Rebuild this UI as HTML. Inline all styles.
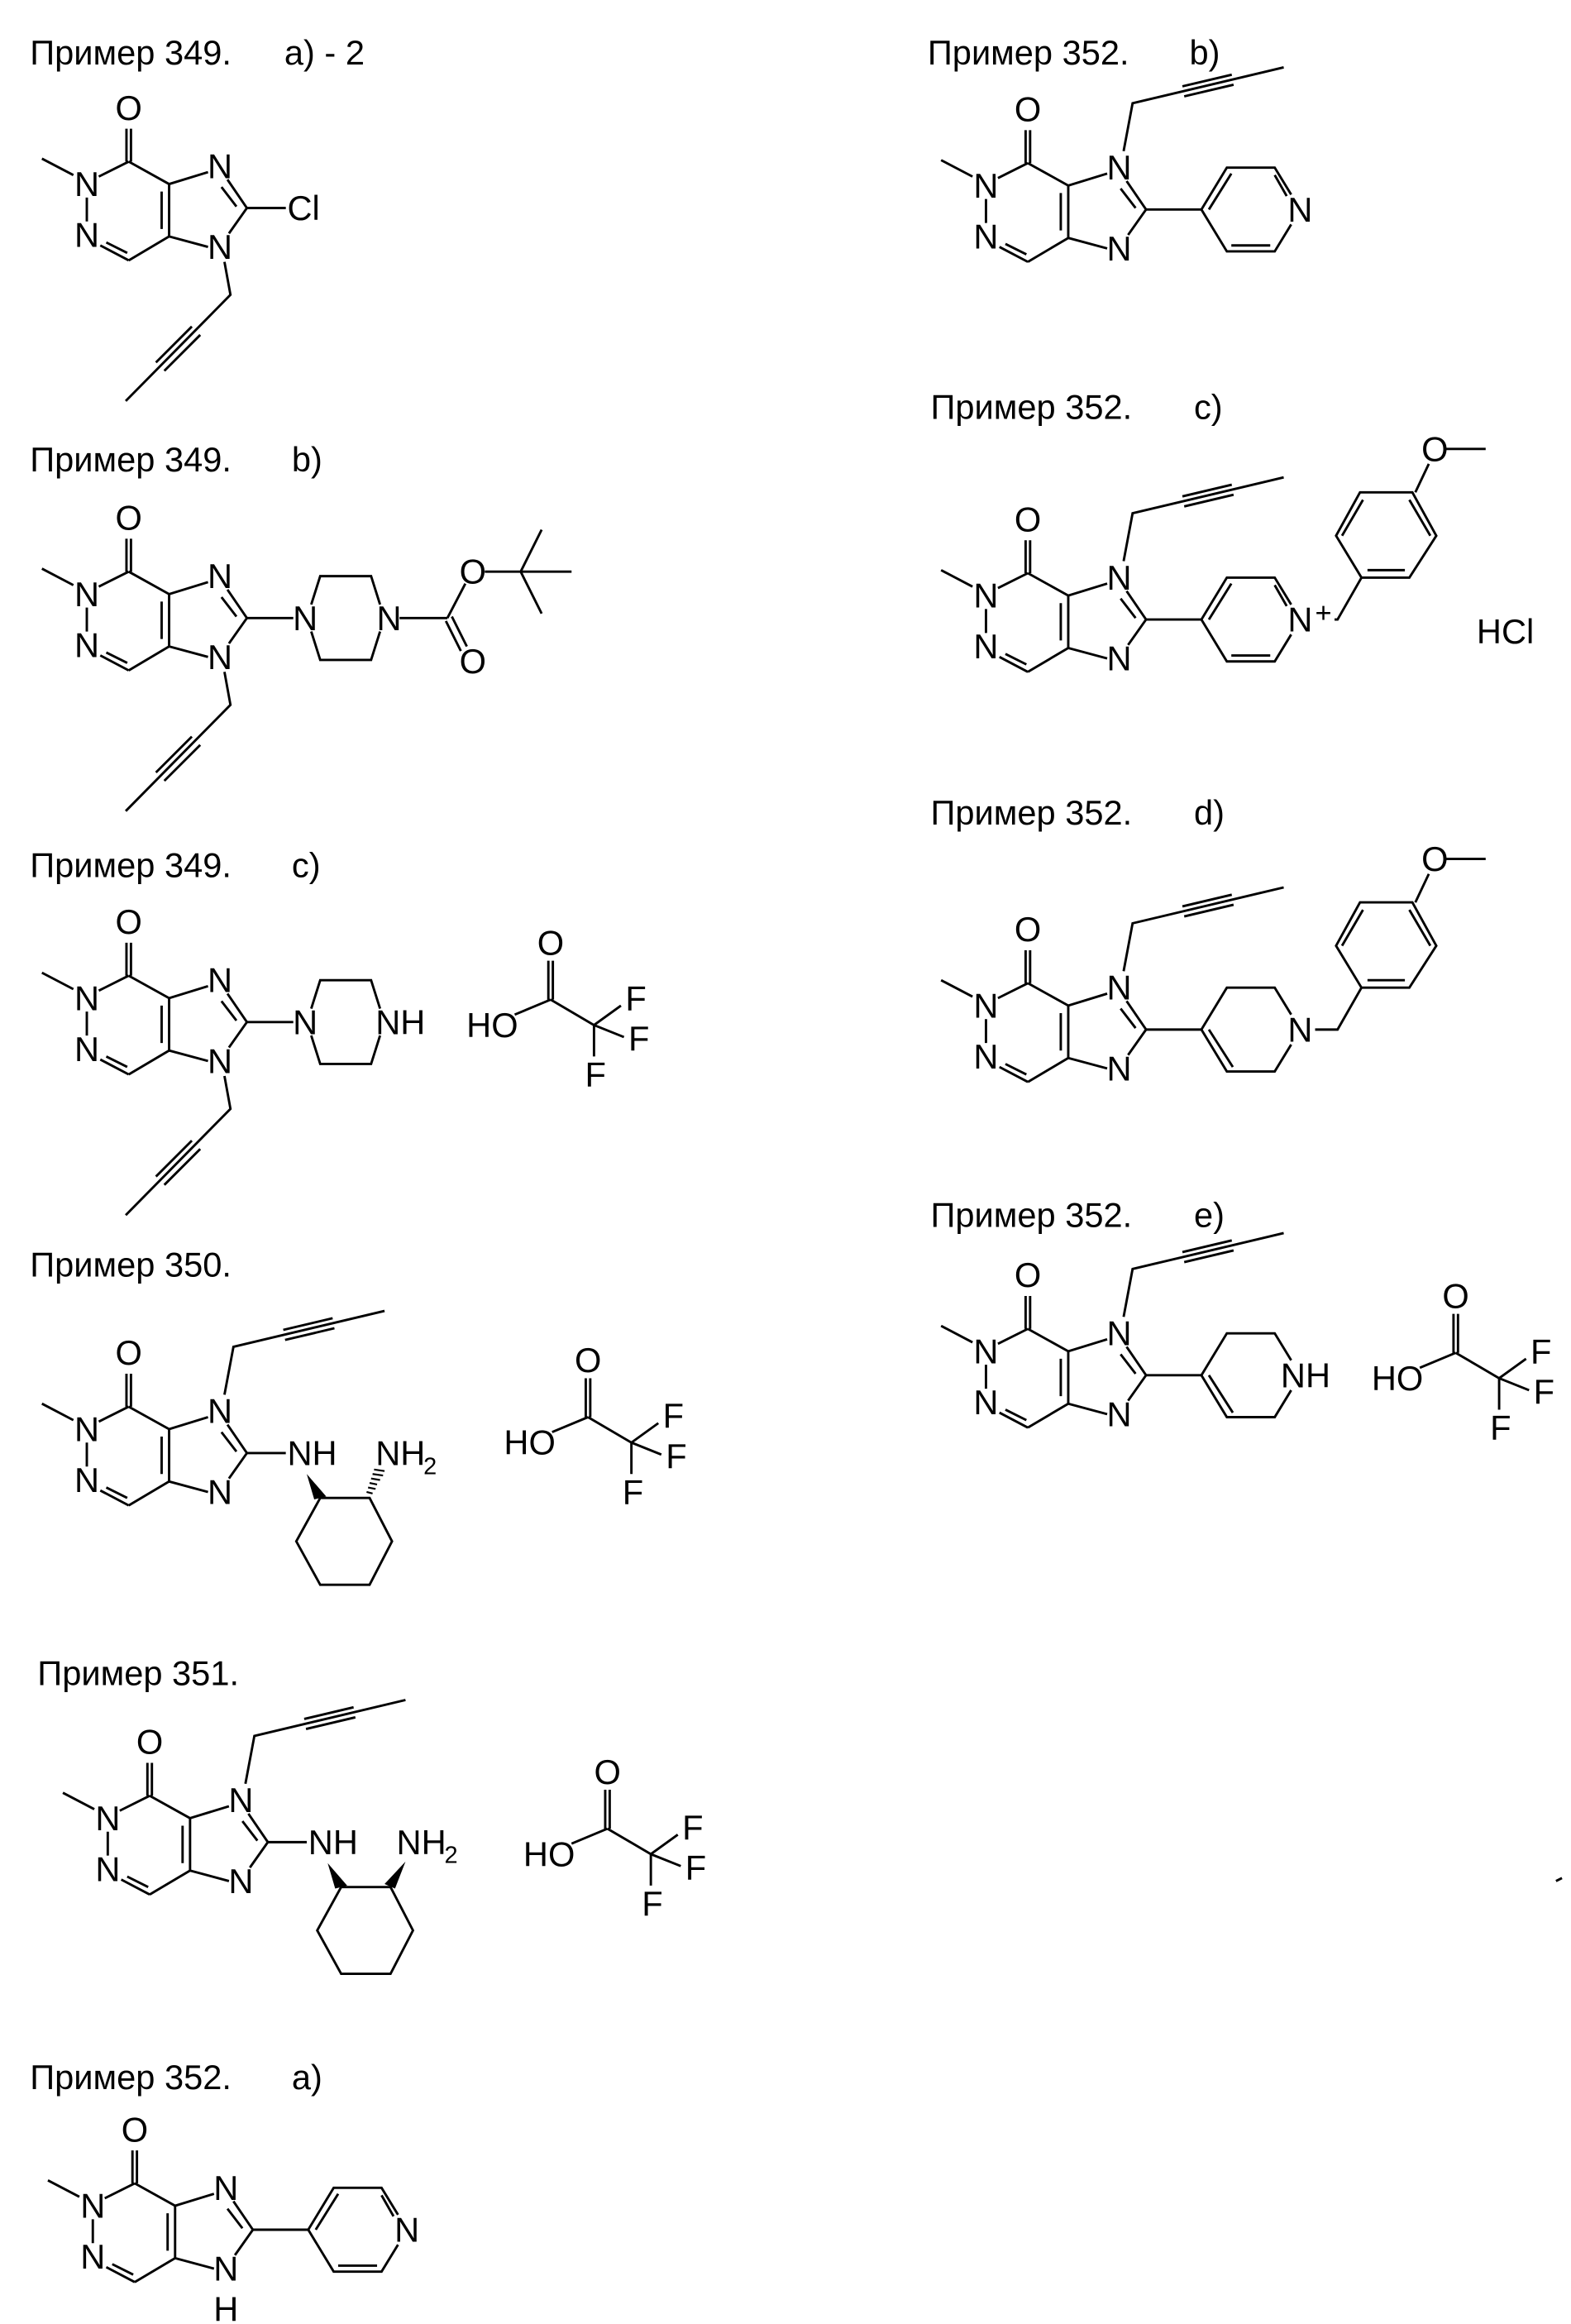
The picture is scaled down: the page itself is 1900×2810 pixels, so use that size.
<!DOCTYPE html>
<html><head><meta charset="utf-8"><style>
html,body{margin:0;padding:0;background:#fff}
svg{display:block}
.t{font-family:"Liberation Sans",sans-serif;font-size:23px;fill:#000}
.a{font-family:"Liberation Sans",sans-serif;font-size:23px;fill:#000;text-anchor:middle}
.s{font-family:"Liberation Sans",sans-serif;font-size:23px;fill:#000}
path,line{stroke:#000;stroke-width:1.6;fill:none}
</style></head><body>
<svg width="1900" height="2810" viewBox="0 0 1050 1553" xmlns="http://www.w3.org/2000/svg">

<!-- Titles -->
<text class="t" x="20" y="43">Пример 349.</text><text class="t" x="190" y="43">a) - 2</text>
<text class="t" x="20" y="315">Пример 349.</text><text class="t" x="195" y="315">b)</text>
<text class="t" x="20" y="586">Пример 349.</text><text class="t" x="195" y="586">c)</text>
<text class="t" x="20" y="853">Пример 350.</text>
<text class="t" x="25" y="1126">Пример 351.</text>
<text class="t" x="20" y="1396">Пример 352.</text><text class="t" x="195" y="1396">a)</text>
<text class="t" x="620" y="43">Пример 352.</text><text class="t" x="795" y="43">b)</text>
<text class="t" x="622" y="280">Пример 352.</text><text class="t" x="798" y="280">c)</text>
<text class="t" x="622" y="551">Пример 352.</text><text class="t" x="798" y="551">d)</text>
<text class="t" x="622" y="820">Пример 352.</text><text class="t" x="798" y="820">e)</text>
<line x1="1040" y1="1257" x2="1044" y2="1255"/>

<!-- 349a -->
<g transform="translate(86,108)">
<path d="M-1.5,-22V0M1.5,-22V0M0,0L-20,10M-58,-2L-37,9M-28,24V40M-19,56L0,66M-15,54L-1,61M0,66L27,50M27,50V15M22,45V20M27,15L0,0M27,15L53,7M66,12L79,31M62,17L72,30M79,31L67,48M27,50L53,57"/>
<text class="a" x="0" y="-28">O</text><text class="a" x="-28" y="23">N</text><text class="a" x="-28" y="57">N</text><text class="a" x="61" y="11">N</text><text class="a" x="61" y="65">N</text>
<path d="M79,31L105,31"/><text class="s" x="106" y="39">Cl</text>
<path d="M64,67L68,89L-2,160M47.8,115.8L23.8,139.8M42.2,110.2L18.2,134.2"/>
</g>

<!-- 349b -->
<g transform="translate(86,382)">
<path d="M-1.5,-22V0M1.5,-22V0M0,0L-20,10M-58,-2L-37,9M-28,24V40M-19,56L0,66M-15,54L-1,61M0,66L27,50M27,50V15M22,45V20M27,15L0,0M27,15L53,7M66,12L79,31M62,17L72,30M79,31L67,48M27,50L53,57"/>
<text class="a" x="0" y="-28">O</text><text class="a" x="-28" y="23">N</text><text class="a" x="-28" y="57">N</text><text class="a" x="61" y="11">N</text><text class="a" x="61" y="65">N</text>
<path d="M64,67L68,89L-2,160M47.8,115.8L23.8,139.8M42.2,110.2L18.2,134.2"/>
<path d="M79,31L110,31M122,22L128,3L162,3L168,22M168,40L162,59L128,59L122,40M181,31L213,31M213,31L225,8M212,33L222,53M216,30L226,50M238,0L262,0M262,0L276,-28M262,0L296,0M262,0L276,28"/>
<text class="a" x="118" y="39">N</text><text class="a" x="174" y="39">N</text>
<text class="a" x="230" y="8">O</text><text class="a" x="230" y="68">O</text>
</g>

<!-- 349c -->
<g transform="translate(86,652)">
<path d="M-1.5,-22V0M1.5,-22V0M0,0L-20,10M-58,-2L-37,9M-28,24V40M-19,56L0,66M-15,54L-1,61M0,66L27,50M27,50V15M22,45V20M27,15L0,0M27,15L53,7M66,12L79,31M62,17L72,30M79,31L67,48M27,50L53,57"/>
<text class="a" x="0" y="-28">O</text><text class="a" x="-28" y="23">N</text><text class="a" x="-28" y="57">N</text><text class="a" x="61" y="11">N</text><text class="a" x="61" y="65">N</text>
<path d="M64,67L68,89L-2,160M47.8,115.8L23.8,139.8M42.2,110.2L18.2,134.2"/>
<path d="M79,31L110,31M122,22L128,3L162,3L168,22M168,40L162,59L128,59L122,40"/>
<text class="a" x="118" y="39">N</text><text class="s" x="165" y="39">NH</text>
<g transform="translate(282,16)">
<path d="M-24,10L0,0M-1.5,0V-26M1.5,0V-26M0,0L29,17M29,17L47,4M29,17L49,25M29,17V38"/>
<text class="a" x="-39" y="25">HO</text><text class="a" x="0" y="-30">O</text><text class="a" x="57" y="7">F</text><text class="a" x="59" y="34">F</text><text class="a" x="30" y="58">F</text>
</g>
</g>

<!-- 350 -->
<g transform="translate(86,940)">
<path d="M-1.5,-22V0M1.5,-22V0M0,0L-20,10M-58,-2L-37,9M-28,24V40M-19,56L0,66M-15,54L-1,61M0,66L27,50M27,50V15M22,45V20M27,15L0,0M27,15L53,7M66,12L79,31M62,17L72,30M79,31L67,48M27,50L53,57"/>
<text class="a" x="0" y="-28">O</text><text class="a" x="-28" y="23">N</text><text class="a" x="-28" y="57">N</text><text class="a" x="61" y="11">N</text><text class="a" x="61" y="65">N</text>
<path d="M64,-8L70,-40L171,-64M104.5,-44.6L137.5,-52.4M103.3,-51.3L136.3,-59.1"/>
<path d="M79,31L105,31M128,61L161,61L176,90L161,119L128,119L112,90Z"/>
<text class="s" x="106" y="39">NH</text><text class="s" x="165" y="39">NH</text><text class="s" x="197" y="45" style="font-size:16px">2</text>
<polygon points="119,45 124,62 132,60" fill="#000"/>
<path d="M163,58L159,57M165,55L160,54M166,52L161,51M168,49L162,48M170,46L163,45M171,43L164,42" style="stroke-width:1.2"/>
<g transform="translate(307,7)">
<path d="M-24,10L0,0M-1.5,0V-26M1.5,0V-26M0,0L29,17M29,17L47,4M29,17L49,25M29,17V38"/>
<text class="a" x="-39" y="25">HO</text><text class="a" x="0" y="-30">O</text><text class="a" x="57" y="7">F</text><text class="a" x="59" y="34">F</text><text class="a" x="30" y="58">F</text>
</g>
</g>

<!-- 351 -->
<g transform="translate(100,1200)">
<path d="M-1.5,-22V0M1.5,-22V0M0,0L-20,10M-58,-2L-37,9M-28,24V40M-19,56L0,66M-15,54L-1,61M0,66L27,50M27,50V15M22,45V20M27,15L0,0M27,15L53,7M66,12L79,31M62,17L72,30M79,31L67,48M27,50L53,57"/>
<text class="a" x="0" y="-28">O</text><text class="a" x="-28" y="23">N</text><text class="a" x="-28" y="57">N</text><text class="a" x="61" y="11">N</text><text class="a" x="61" y="65">N</text>
<path d="M64,-8L70,-40L171,-64M104.5,-44.6L137.5,-52.4M103.3,-51.3L136.3,-59.1"/>
<path d="M79,31L105,31M128,61L161,61L176,90L161,119L128,119L112,90Z"/>
<text class="s" x="106" y="39">NH</text><text class="s" x="165" y="39">NH</text><text class="s" x="197" y="45" style="font-size:16px">2</text>
<polygon points="119,45 124,62 132,60" fill="#000"/>
<polygon points="171,44 157,59 164,62" fill="#000"/>
<g transform="translate(306,22)">
<path d="M-24,10L0,0M-1.5,0V-26M1.5,0V-26M0,0L29,17M29,17L47,4M29,17L49,25M29,17V38"/>
<text class="a" x="-39" y="25">HO</text><text class="a" x="0" y="-30">O</text><text class="a" x="57" y="7">F</text><text class="a" x="59" y="34">F</text><text class="a" x="30" y="58">F</text>
</g>
</g>

<!-- 352a -->
<g transform="translate(90,1459)">
<path d="M-1.5,-22V0M1.5,-22V0M0,0L-20,10M-58,-2L-37,9M-28,24V40M-19,56L0,66M-15,54L-1,61M0,66L27,50M27,50V15M22,45V20M27,15L0,0M27,15L53,7M66,12L79,31M62,17L72,30M79,31L67,48M27,50L53,57"/>
<text class="a" x="0" y="-28">O</text><text class="a" x="-28" y="23">N</text><text class="a" x="-28" y="57">N</text><text class="a" x="61" y="11">N</text><text class="a" x="61" y="65">N</text>
<text class="a" x="61" y="92">H</text>
<path d="M79,31L116,31M116,31L133,3L165,3L176,21M176,41L165,59L133,59L116,31M121,31L136,7M165,8L173,22M162,55L136,55"/>
<text class="a" x="182" y="39">N</text>
</g>

<!-- 352b -->
<g transform="translate(687,109)">
<path d="M-1.5,-22V0M1.5,-22V0M0,0L-20,10M-58,-2L-37,9M-28,24V40M-19,56L0,66M-15,54L-1,61M0,66L27,50M27,50V15M22,45V20M27,15L0,0M27,15L53,7M66,12L79,31M62,17L72,30M79,31L67,48M27,50L53,57"/>
<text class="a" x="0" y="-28">O</text><text class="a" x="-28" y="23">N</text><text class="a" x="-28" y="57">N</text><text class="a" x="61" y="11">N</text><text class="a" x="61" y="65">N</text>
<path d="M64,-8L70,-40L171,-64M104.5,-44.6L137.5,-52.4M103.3,-51.3L136.3,-59.1"/>
<path d="M79,31L116,31M116,31L133,3L165,3L176,21M176,41L165,59L133,59L116,31M121,31L136,7M165,8L173,22M162,55L136,55"/>
<text class="a" x="182" y="39">N</text>
</g>

<!-- 352c -->
<g transform="translate(687,383)">
<path d="M-1.5,-22V0M1.5,-22V0M0,0L-20,10M-58,-2L-37,9M-28,24V40M-19,56L0,66M-15,54L-1,61M0,66L27,50M27,50V15M22,45V20M27,15L0,0M27,15L53,7M66,12L79,31M62,17L72,30M79,31L67,48M27,50L53,57"/>
<text class="a" x="0" y="-28">O</text><text class="a" x="-28" y="23">N</text><text class="a" x="-28" y="57">N</text><text class="a" x="61" y="11">N</text><text class="a" x="61" y="65">N</text>
<path d="M64,-8L70,-40L171,-64M104.5,-44.6L137.5,-52.4M103.3,-51.3L136.3,-59.1"/>
<path d="M79,31L116,31M116,31L133,3L165,3L176,21M176,41L165,59L133,59L116,31M121,31L136,7M165,8L173,22M162,55L136,55"/>
<text class="a" x="182" y="39">N</text><text class="s" x="192" y="33" style="font-size:19px">+</text>
<path d="M205,31L207,31L223,3M223,3L255,3L273,-25L257,-54L222,-54L206,-25Z M227,-2L252,-2M269,-25L255,-49M210,-25L224,-49M259,-54L268,-73M279,-83L306,-83"/>
<text class="a" x="272" y="-75">O</text>
<text class="t" x="300" y="47">HCl</text>
</g>

<!-- 352d -->
<g transform="translate(687,657)">
<path d="M-1.5,-22V0M1.5,-22V0M0,0L-20,10M-58,-2L-37,9M-28,24V40M-19,56L0,66M-15,54L-1,61M0,66L27,50M27,50V15M22,45V20M27,15L0,0M27,15L53,7M66,12L79,31M62,17L72,30M79,31L67,48M27,50L53,57"/>
<text class="a" x="0" y="-28">O</text><text class="a" x="-28" y="23">N</text><text class="a" x="-28" y="57">N</text><text class="a" x="61" y="11">N</text><text class="a" x="61" y="65">N</text>
<path d="M64,-8L70,-40L171,-64M104.5,-44.6L137.5,-52.4M103.3,-51.3L136.3,-59.1"/>
<path d="M79,31L116,31M116,31L133,3L165,3L176,21M176,41L165,59L133,59L116,31M121,31L137,56"/>
<text class="a" x="182" y="39">N</text>
<path d="M192,31L207,31L223,3M223,3L255,3L273,-25L257,-54L222,-54L206,-25Z M227,-2L252,-2M269,-25L255,-49M210,-25L224,-49M259,-54L268,-73M279,-83L306,-83"/>
<text class="a" x="272" y="-75">O</text>
</g>

<!-- 352e -->
<g transform="translate(687,888)">
<path d="M-1.5,-22V0M1.5,-22V0M0,0L-20,10M-58,-2L-37,9M-28,24V40M-19,56L0,66M-15,54L-1,61M0,66L27,50M27,50V15M22,45V20M27,15L0,0M27,15L53,7M66,12L79,31M62,17L72,30M79,31L67,48M27,50L53,57"/>
<text class="a" x="0" y="-28">O</text><text class="a" x="-28" y="23">N</text><text class="a" x="-28" y="57">N</text><text class="a" x="61" y="11">N</text><text class="a" x="61" y="65">N</text>
<path d="M64,-8L70,-40L171,-64M104.5,-44.6L137.5,-52.4M103.3,-51.3L136.3,-59.1"/>
<path d="M79,31L116,31M116,31L133,3L165,3L176,21M176,41L165,59L133,59L116,31M121,31L137,56"/>
<text class="s" x="169" y="39">NH</text>
<g transform="translate(286,16)">
<path d="M-24,10L0,0M-1.5,0V-26M1.5,0V-26M0,0L29,17M29,17L47,4M29,17L49,25M29,17V38"/>
<text class="a" x="-39" y="25">HO</text><text class="a" x="0" y="-30">O</text><text class="a" x="57" y="7">F</text><text class="a" x="59" y="34">F</text><text class="a" x="30" y="58">F</text>
</g>
</g>

</svg>
</body></html>
